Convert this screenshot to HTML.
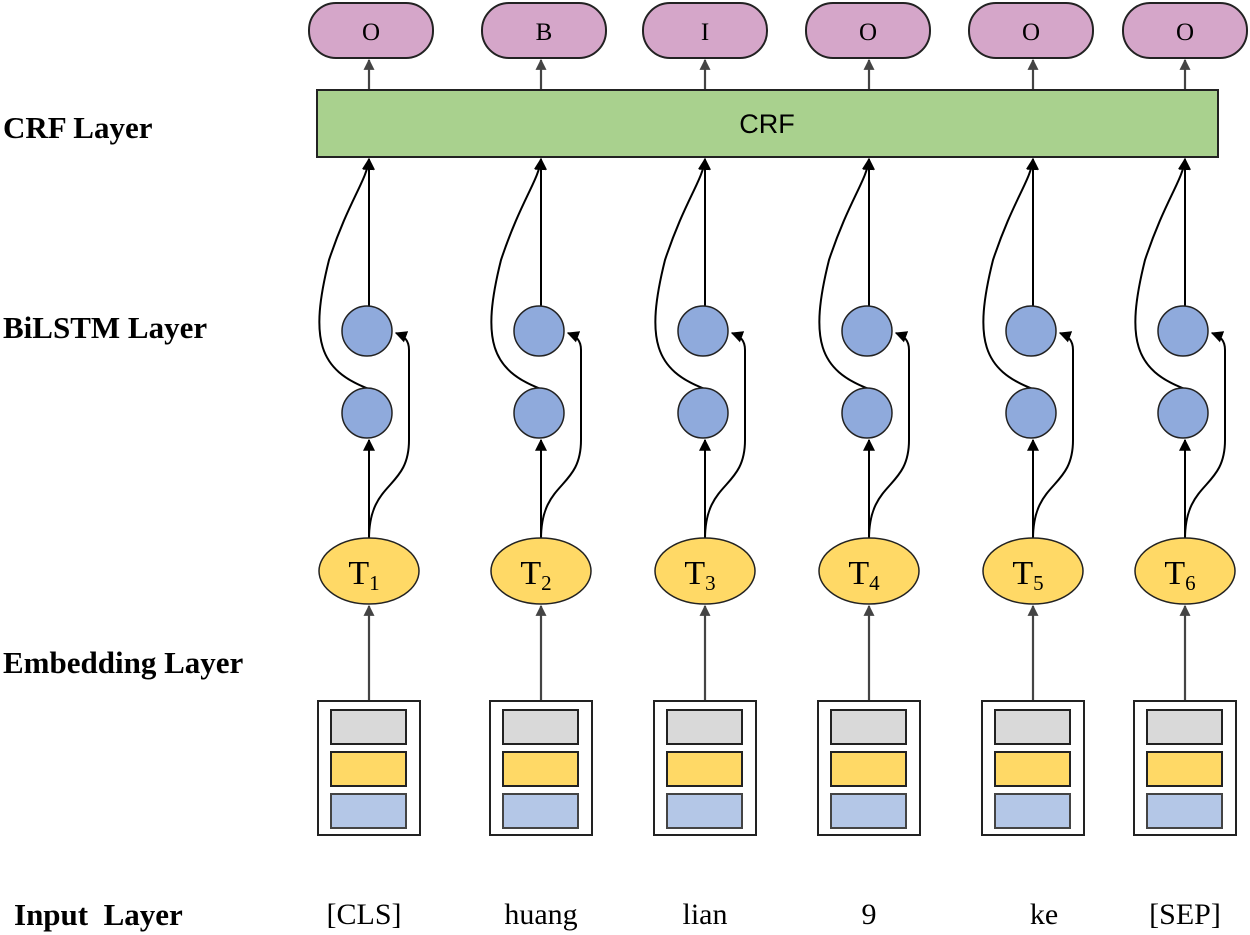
<!DOCTYPE html>
<html><head><meta charset="utf-8"><style>
html,body{margin:0;padding:0;background:#fff;}
svg{display:block;}
text{font-family:"Liberation Serif",serif;}
</style></head><body>
<svg width="1250" height="935" viewBox="0 0 1250 935" xmlns="http://www.w3.org/2000/svg">
<defs>
<marker id="ah" viewBox="0 0 10 10" refX="9" refY="5" markerWidth="6" markerHeight="6" orient="auto"><path d="M0,0L10,5L0,10z" fill="#000"/></marker>
<marker id="ag" viewBox="0 0 10 10" refX="9" refY="5" markerWidth="5" markerHeight="5" orient="auto"><path d="M0,0L10,5L0,10z" fill="#444"/></marker>
<g id="col">
  <line x1="0" y1="90" x2="0" y2="60" stroke="#444" stroke-width="2.2" marker-end="url(#ag)"/>
  <line x1="0" y1="307" x2="0" y2="159" stroke="#000" stroke-width="2" marker-end="url(#ah)"/>
  <path d="M0,389 C-50,370 -60,340 -40,260 C-20,200 -2,180 0,159" fill="none" stroke="#000" stroke-width="2" marker-end="url(#ah)"/>
  <circle cx="-2" cy="331" r="25" fill="#8faadc" stroke="#222" stroke-width="1.5"/>
  <circle cx="-2" cy="413" r="25" fill="#8faadc" stroke="#222" stroke-width="1.5"/>
  <line x1="0" y1="539" x2="0" y2="440" stroke="#000" stroke-width="2" marker-end="url(#ah)"/>
  <path d="M0,539 C0,480 40,490 40,440 L40,350 C40,340 35,336 27,333" fill="none" stroke="#000" stroke-width="2" marker-end="url(#ah)"/>
  <line x1="0" y1="702" x2="0" y2="606" stroke="#444" stroke-width="2.2" marker-end="url(#ag)"/>
  <ellipse cx="0" cy="571" rx="50" ry="33" fill="#ffd966" stroke="#222" stroke-width="1.5"/>
  <rect x="-51" y="701" width="102" height="134" fill="#fff" stroke="#222" stroke-width="2"/>
  <rect x="-38" y="710" width="75" height="34" fill="#d9d9d9" stroke="#222" stroke-width="2"/>
  <rect x="-38" y="752" width="75" height="34" fill="#ffd966" stroke="#222" stroke-width="2"/>
  <rect x="-38" y="794" width="75" height="34" fill="#b4c7e7" stroke="#444" stroke-width="2"/>
</g>
<rect id="pill" x="-62" y="3" width="124" height="55" rx="27" fill="#d5a6c9" stroke="#222" stroke-width="2"/>
</defs>

<use href="#col" x="369"/>
<use href="#col" x="541"/>
<use href="#col" x="705"/>
<use href="#col" x="869"/>
<use href="#col" x="1033"/>
<use href="#col" x="1185"/>

<use href="#pill" x="371"/>
<use href="#pill" x="544"/>
<use href="#pill" x="705"/>
<use href="#pill" x="868"/>
<use href="#pill" x="1031"/>
<use href="#pill" x="1185"/>

<rect x="317" y="90" width="901" height="67" fill="#a9d18e" stroke="#222" stroke-width="2"/>
<text x="767" y="133" font-size="27" text-anchor="middle" style="font-family:'Liberation Sans',sans-serif">CRF</text>

<g font-size="25" text-anchor="middle">
<text x="371" y="40">O</text><text x="544" y="40">B</text><text x="705" y="40">I</text>
<text x="868" y="40">O</text><text x="1031" y="40">O</text><text x="1185" y="40">O</text>
</g>

<g font-size="34" text-anchor="middle">
<text x="364" y="584">T<tspan font-size="21" dy="6">1</tspan></text>
<text x="536" y="584">T<tspan font-size="21" dy="6">2</tspan></text>
<text x="700" y="584">T<tspan font-size="21" dy="6">3</tspan></text>
<text x="864" y="584">T<tspan font-size="21" dy="6">4</tspan></text>
<text x="1028" y="584">T<tspan font-size="21" dy="6">5</tspan></text>
<text x="1180" y="584">T<tspan font-size="21" dy="6">6</tspan></text>
</g>

<g font-size="31" font-weight="bold">
<text x="3" y="138">CRF Layer</text>
<text x="3" y="338">BiLSTM Layer</text>
<text x="3" y="673">Embedding Layer</text>
<text x="14" y="925">Input&#160; Layer</text>
</g>

<g font-size="30" text-anchor="middle">
<text x="364" y="924">[CLS]</text>
<text x="541" y="924">huang</text>
<text x="705" y="924">lian</text>
<text x="869" y="924">9</text>
<text x="1044" y="924">ke</text>
<text x="1185" y="924">[SEP]</text>
</g>
</svg>
</body></html>
